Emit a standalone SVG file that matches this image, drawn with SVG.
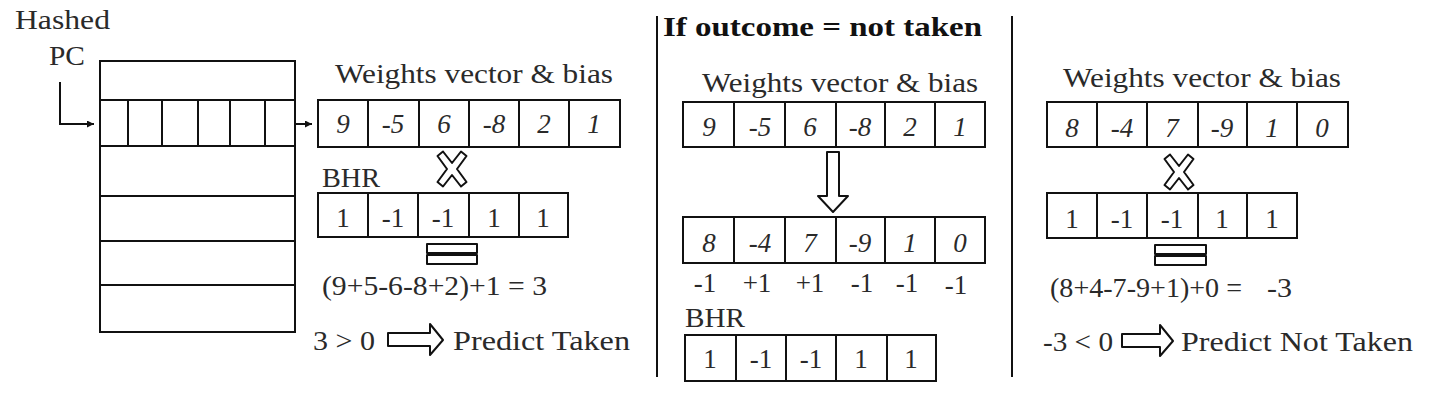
<svg xmlns="http://www.w3.org/2000/svg" width="1440" height="404" viewBox="0 0 1440 404">
<style>
.t{font-family:"Liberation Serif","DejaVu Serif",serif;font-size:28px;fill:#2a2a2a}
.v{font-family:"Liberation Serif","DejaVu Serif",serif;font-size:27px;fill:#2a2a2a;text-anchor:middle}
.i{font-style:italic}
.b{font-weight:bold;fill:#111}
.ln{fill:none;stroke:#111;stroke-width:2}
.hol{fill:#fff;stroke:#111;stroke-width:2;stroke-linejoin:round}
</style>
<defs>
<marker id="ah" viewBox="0 0 10 10" refX="10" refY="5" markerWidth="7" markerHeight="7" markerUnits="userSpaceOnUse" orient="auto">
<path d="M0,0 L10,5 L0,10 Z" fill="#111"/>
</marker>
<path id="cross" d="M-9,-17.5 L0,-6 L9,-17.5 L14.5,-13 L5,0 L14.5,13 L9,17.5 L0,6 L-9,17.5 L-14.5,13 L-5,0 L-14.5,-13 Z"/>
</defs>
<rect width="1440" height="404" fill="#fff"/>

<g id="hashed-pc">
<text class="t" x="15" y="29" font-size="30" textLength="95" lengthAdjust="spacingAndGlyphs">Hashed</text>
<text class="t" x="49" y="65" font-size="30" textLength="36" lengthAdjust="spacingAndGlyphs">PC</text>
</g>

<g id="table">
<rect class="ln" x="100" y="61" width="195" height="271"/>
<path class="ln" d="M100,100H295M100,146H295M100,196H295M100,241H295M100,285H295"/>
<path class="ln" d="M128,100V146M162,100V146M198,100V146M230,100V146M265,100V146"/>
</g>

<g id="connectors">
<path class="ln" d="M60,82V124H94" marker-end="url(#ah)"/>
<path class="ln" d="M295,124H312" marker-end="url(#ah)"/>
</g>

<g id="left-weights">
<text class="t" x="335" y="83" textLength="278" lengthAdjust="spacingAndGlyphs">Weights vector &amp; bias</text>
<rect class="ln" x="318" y="100" width="302" height="47"/>
<path class="ln" d="M368,100V147M419,100V147M469,100V147M519,100V147M569,100V147"/>
<text class="v i" x="343" y="133">9</text>
<text class="v i" x="393" y="133">-5</text>
<text class="v i" x="444" y="133">6</text>
<text class="v i" x="494" y="133">-8</text>
<text class="v i" x="544" y="133">2</text>
<text class="v i" x="594" y="133">1</text>
</g>

<g id="left-mult">
<use href="#cross" class="hol" transform="translate(452,169)"/>
</g>

<g id="left-bhr">
<text class="t" x="322" y="187" textLength="58" lengthAdjust="spacingAndGlyphs">BHR</text>
<rect class="ln" x="318" y="193" width="250" height="44"/>
<path class="ln" d="M368,193V237M418,193V237M469,193V237M519,193V237"/>
<text class="v" x="343" y="227">1</text>
<text class="v" x="393" y="227">-1</text>
<text class="v" x="443" y="227">-1</text>
<text class="v" x="494" y="227">1</text>
<text class="v" x="543" y="227">1</text>
</g>

<g id="left-result">
<rect class="hol" x="427" y="244" width="50" height="9"/>
<rect class="hol" x="427" y="255" width="50" height="9"/>
<text class="t" x="322" y="295" textLength="225" lengthAdjust="spacingAndGlyphs">(9+5-6-8+2)+1 = 3</text>
<text class="t" x="313" y="350" textLength="62" lengthAdjust="spacingAndGlyphs">3 &gt; 0</text>
<path class="hol" d="M388,333H430V324L443,340L430,355V346H388Z"/>
<text class="t" x="453" y="350" textLength="177" lengthAdjust="spacingAndGlyphs">Predict Taken</text>
</g>

<g id="dividers">
<path class="ln" d="M657,16V377M1012,16V377"/>
</g>

<g id="update">
<text class="t b" x="663" y="36" textLength="319" lengthAdjust="spacingAndGlyphs">If outcome = not taken</text>
<text class="t" x="702" y="92" textLength="276" lengthAdjust="spacingAndGlyphs">Weights vector &amp; bias</text>
<rect class="ln" x="683" y="102" width="302" height="45"/>
<path class="ln" d="M734,102V147M785,102V147M836,102V147M885,102V147M935,102V147"/>
<text class="v i" x="709" y="136">9</text>
<text class="v i" x="760" y="136">-5</text>
<text class="v i" x="810" y="136">6</text>
<text class="v i" x="860" y="136">-8</text>
<text class="v i" x="910" y="136">2</text>
<text class="v i" x="960" y="136">1</text>
<path class="hol" d="M827,152H839V196H848L833,212L818,196H827Z"/>
<rect class="ln" x="683" y="217" width="302" height="46"/>
<path class="ln" d="M734,217V263M785,217V263M836,217V263M885,217V263M935,217V263"/>
<text class="v i" x="709" y="252">8</text>
<text class="v i" x="760" y="252">-4</text>
<text class="v i" x="810" y="252">7</text>
<text class="v i" x="860" y="252">-9</text>
<text class="v i" x="910" y="252">1</text>
<text class="v i" x="960" y="252">0</text>
<text class="v" x="705" y="292">-1</text>
<text class="v" x="757" y="292">+1</text>
<text class="v" x="810" y="292">+1</text>
<text class="v" x="862" y="292">-1</text>
<text class="v" x="907" y="292">-1</text>
<text class="v" x="956" y="294">-1</text>
<text class="t" x="685" y="327" textLength="60" lengthAdjust="spacingAndGlyphs">BHR</text>
<rect class="ln" x="685" y="335" width="251" height="46"/>
<path class="ln" d="M736,335V381M786,335V381M836,335V381M887,335V381"/>
<text class="v" x="710" y="368">1</text>
<text class="v" x="761" y="368">-1</text>
<text class="v" x="811" y="368">-1</text>
<text class="v" x="861" y="368">1</text>
<text class="v" x="911" y="368">1</text>
</g>

<g id="right-weights">
<text class="t" x="1063" y="87" textLength="278" lengthAdjust="spacingAndGlyphs">Weights vector &amp; bias</text>
<rect class="ln" x="1047" y="102" width="301" height="45"/>
<path class="ln" d="M1097,102V147M1147,102V147M1198,102V147M1247,102V147M1297,102V147"/>
<text class="v i" x="1072" y="137">8</text>
<text class="v i" x="1122" y="137">-4</text>
<text class="v i" x="1172" y="137">7</text>
<text class="v i" x="1222" y="137">-9</text>
<text class="v i" x="1272" y="137">1</text>
<text class="v i" x="1322" y="137">0</text>
</g>

<g id="right-mult">
<use href="#cross" class="hol" transform="translate(1179,172)"/>
</g>

<g id="right-bhr">
<rect class="ln" x="1047" y="193" width="250" height="45"/>
<path class="ln" d="M1097,193V238M1147,193V238M1198,193V238M1247,193V238"/>
<text class="v" x="1072" y="228">1</text>
<text class="v" x="1122" y="228">-1</text>
<text class="v" x="1172" y="228">-1</text>
<text class="v" x="1222" y="228">1</text>
<text class="v" x="1272" y="228">1</text>
</g>

<g id="right-result">
<rect class="hol" x="1155" y="245" width="51" height="9"/>
<rect class="hol" x="1155" y="256" width="51" height="9"/>
<text class="t" x="1050" y="297" textLength="192" lengthAdjust="spacingAndGlyphs">(8+4-7-9+1)+0 =</text>
<text class="t" x="1267" y="297" textLength="25" lengthAdjust="spacingAndGlyphs">-3</text>
<text class="t" x="1043" y="351" textLength="70" lengthAdjust="spacingAndGlyphs">-3 &lt; 0</text>
<path class="hol" d="M1122,334H1160V325L1173,341L1160,356V347H1122Z"/>
<text class="t" x="1181" y="351" textLength="232" lengthAdjust="spacingAndGlyphs">Predict Not Taken</text>
</g>
</svg>
